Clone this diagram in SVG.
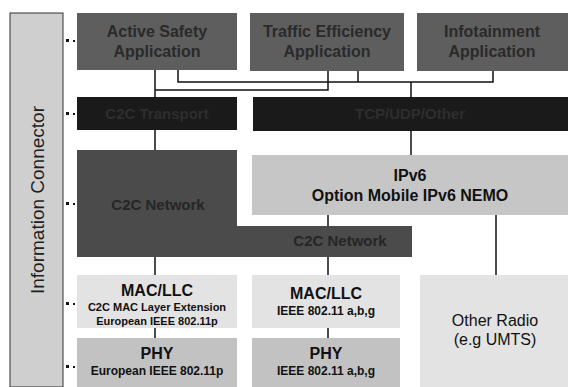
<svg xmlns="http://www.w3.org/2000/svg" width="568" height="387" viewBox="0 0 568 387">
<style>
text{font-family:"Liberation Sans",Arial,sans-serif;text-anchor:middle;font-weight:bold}
.app{fill:#5e5e5e}
.apt{fill:#2a2a2a;font-size:16px}
.blk{fill:#1a1a1a}
.bkt{fill:#2e2e2e;font-size:15px}
.net{fill:#4b4b4b}
.nt{fill:#262626;font-size:15px}
.ip{fill:#c6c6c6}
.mac{fill:#e3e3e3}
.phy{fill:#c2c2c2}
.big{fill:#111;font-size:16px}
.sm{fill:#111;font-size:11px}
.md{fill:#111;font-size:12px}
.c{stroke:#111;stroke-width:1.5;fill:none}
.dot{fill:#111}
</style>
<rect width="568" height="387" fill="#fff"/>
<g id="info-connector">
<rect x="10" y="13" width="53" height="374" fill="#cfcfcf" stroke="#333" stroke-width="1"/>
<text transform="translate(44,200) rotate(-90)" style="font-size:19px;font-weight:normal;fill:#1e1e1e">Information Connector</text>
<g class="dot">
<rect x="66" y="39" width="3" height="3"/><rect x="73" y="40" width="2" height="2"/>
<rect x="66" y="112" width="3" height="3"/><rect x="73" y="113" width="2" height="2"/>
<rect x="66" y="202" width="3" height="3"/><rect x="73" y="203" width="2" height="2"/>
<rect x="66" y="302" width="3" height="3"/><rect x="73" y="303" width="2" height="2"/>
<rect x="66" y="365" width="3" height="3"/><rect x="73" y="366" width="2" height="2"/>
</g>
</g>
<g id="connectors" class="c">
<path d="M155,70 V97"/>
<path d="M155,90 H328 V71"/>
<path d="M178,70 V82 H493 V71"/>
<path d="M358,71 V82"/>
<path d="M411,82 V97"/>
<path d="M155,130 V150"/>
<path d="M411,131 V155"/>
<path d="M328,215 V226"/>
<path d="M496,215 V275"/>
<path d="M155,257 V275"/>
<path d="M328,257 V275"/>
<path d="M155,328 V338"/>
<path d="M328,328 V338"/>
</g>
<g id="active-safety">
<rect class="app" x="77" y="13" width="160" height="57"/>
<text class="apt" x="157" y="37">Active Safety</text>
<text class="apt" x="157" y="57">Application</text>
</g>
<g id="traffic-efficiency">
<rect class="app" x="250" y="13" width="154" height="58"/>
<text class="apt" x="327" y="37">Traffic Efficiency</text>
<text class="apt" x="327" y="57">Application</text>
</g>
<g id="infotainment">
<rect class="app" x="417" y="13" width="151" height="58"/>
<text class="apt" x="492" y="37">Infotainment</text>
<text class="apt" x="492" y="57">Application</text>
</g>
<g id="c2c-transport">
<rect class="blk" x="77" y="97" width="160" height="33"/>
<text class="bkt" x="157" y="119">C2C Transport</text>
</g>
<g id="tcp-udp">
<rect class="blk" x="253" y="97" width="315" height="34"/>
<text class="bkt" x="410" y="119">TCP/UDP/Other</text>
</g>
<g id="c2c-network-left">
<rect class="net" x="77" y="150" width="160" height="107"/>
<text class="nt" x="158" y="210">C2C Network</text>
</g>
<g id="c2c-network-right">
<rect class="net" x="236" y="226" width="176" height="31"/>
<text class="nt" x="340" y="246">C2C Network</text>
</g>
<g id="ipv6">
<rect class="ip" x="252" y="155" width="316" height="60"/>
<text class="big" x="410" y="181">IPv6</text>
<text class="big" x="410" y="201">Option Mobile IPv6 NEMO</text>
</g>
<g id="mac-c2c">
<rect class="mac" x="77" y="275" width="160" height="53"/>
<text class="big" x="157" y="296">MAC/LLC</text>
<text class="sm" x="157" y="311">C2C MAC Layer Extension</text>
<text class="sm" x="157" y="325">European IEEE 802.11p</text>
</g>
<g id="phy-c2c">
<rect class="phy" x="77" y="338" width="160" height="49"/>
<text class="big" x="157" y="359">PHY</text>
<text class="md" x="157" y="375">European IEEE 802.11p</text>
</g>
<g id="mac-abg">
<rect class="mac" x="252" y="275" width="148" height="53"/>
<text class="big" x="326" y="299">MAC/LLC</text>
<text class="md" x="326" y="315">IEEE 802.11 a,b,g</text>
</g>
<g id="phy-abg">
<rect class="phy" x="252" y="338" width="148" height="49"/>
<text class="big" x="326" y="359">PHY</text>
<text class="md" x="326" y="375">IEEE 802.11 a,b,g</text>
</g>
<g id="other-radio">
<rect class="mac" x="420" y="275" width="148" height="112"/>
<text class="big" x="495" y="326" style="font-weight:normal">Other Radio</text>
<text class="big" x="495" y="345" style="font-weight:normal">(e.g UMTS)</text>
</g>
</svg>
